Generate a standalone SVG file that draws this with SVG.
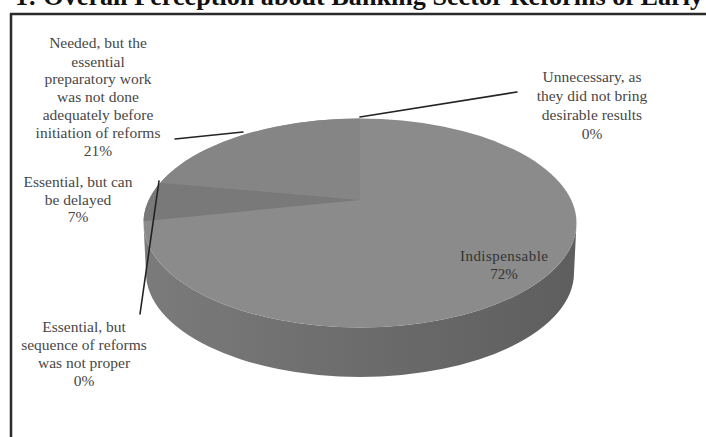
<svg xmlns="http://www.w3.org/2000/svg" width="706" height="437" viewBox="0 0 706 437">
  <defs>
    <style>
      .lbl { font-family: "Liberation Serif", "Times New Roman", serif; font-size: 15.5px; fill: #474747; text-anchor: middle; }
      .inner { font-family: "Liberation Serif", "Times New Roman", serif; font-size: 15px; fill: #333333; text-anchor: middle; }
      .title { font-family: "Liberation Serif", "Times New Roman", serif; font-size: 25px; font-weight: bold; fill: #111111; }
      .lead { stroke: #232323; stroke-width: 1.6; fill: none; stroke-linecap: round; }
      .frame { stroke: #2b2b2b; stroke-width: 2.5; fill: none; }
    </style>
    <linearGradient id="sideGrad" x1="0" y1="0" x2="1" y2="0">
      <stop offset="0" stop-color="#7b7b7b"/>
      <stop offset="0.5" stop-color="#6c6c6c"/>
      <stop offset="1" stop-color="#5e5e5e"/>
    </linearGradient>
    <clipPath id="topClip">
      <ellipse cx="360" cy="223" rx="216.5" ry="104.5"/>
    </clipPath>
  </defs>

  <rect x="0" y="0" width="706" height="437" fill="#ffffff"/>

  <g id="title">
    <text class="title" x="15" y="5" textLength="688" lengthAdjust="spacingAndGlyphs">1: Overall Perception about Banking Sector Reforms of Early</text>
  </g>

  <g id="frame">
    <polyline class="frame" points="11,437 11,14 706,14"/>
  </g>

  <g id="pie">
    <path id="pie-side" d="M143.5,223 L146,273 A214,104 0 0 0 574,273 L576.5,223 A216.5,104.5 0 0 1 143.5,223 Z" fill="url(#sideGrad)"/>
    <g id="slice-indispensable">
      <ellipse cx="360" cy="223" rx="216.5" ry="104.5" fill="#8b8b8b"/>
    </g>
    <g clip-path="url(#topClip)">
      <g id="slice-needed">
        <polygon points="360,200 360,40 -56,40 -56,164" fill="#858585"/>
      </g>
      <g id="slice-delayed">
        <polygon points="360,200 -56,164 -70,242" fill="#797979"/>
      </g>
    </g>
  </g>

  <g id="connectors">
    <line class="lead" x1="175" y1="139" x2="243" y2="132"/>
    <line class="lead" x1="360" y1="117" x2="517" y2="92"/>
    <line class="lead" x1="159" y1="181" x2="140" y2="314"/>
  </g>

  <g id="label-needed">
    <text class="lbl" x="98" y="48">Needed, but the</text>
    <text class="lbl" x="98" y="66.5">essential</text>
    <text class="lbl" x="98" y="84">preparatory work</text>
    <text class="lbl" x="98" y="102">was not done</text>
    <text class="lbl" x="98" y="120">adequately before</text>
    <text class="lbl" x="98" y="138">initiation of reforms</text>
    <text class="lbl" x="98" y="156">21%</text>
  </g>

  <g id="label-delayed">
    <text class="lbl" x="78" y="187">Essential, but can</text>
    <text class="lbl" x="78" y="204.5">be delayed</text>
    <text class="lbl" x="78" y="222">7%</text>
  </g>

  <g id="label-unnecessary">
    <text class="lbl" x="592" y="82">Unnecessary, as</text>
    <text class="lbl" x="592" y="100.5">they did not bring</text>
    <text class="lbl" x="592" y="119.5">desirable results</text>
    <text class="lbl" x="592" y="138.5">0%</text>
  </g>

  <g id="label-sequence">
    <text class="lbl" x="84" y="332">Essential, but</text>
    <text class="lbl" x="84" y="349.5">sequence of reforms</text>
    <text class="lbl" x="84" y="367.5">was not proper</text>
    <text class="lbl" x="84" y="386">0%</text>
  </g>

  <g id="label-indispensable">
    <text class="inner" x="504" y="261" textLength="88" lengthAdjust="spacing">Indispensable</text>
    <text class="inner" x="504" y="279">72%</text>
  </g>
</svg>
